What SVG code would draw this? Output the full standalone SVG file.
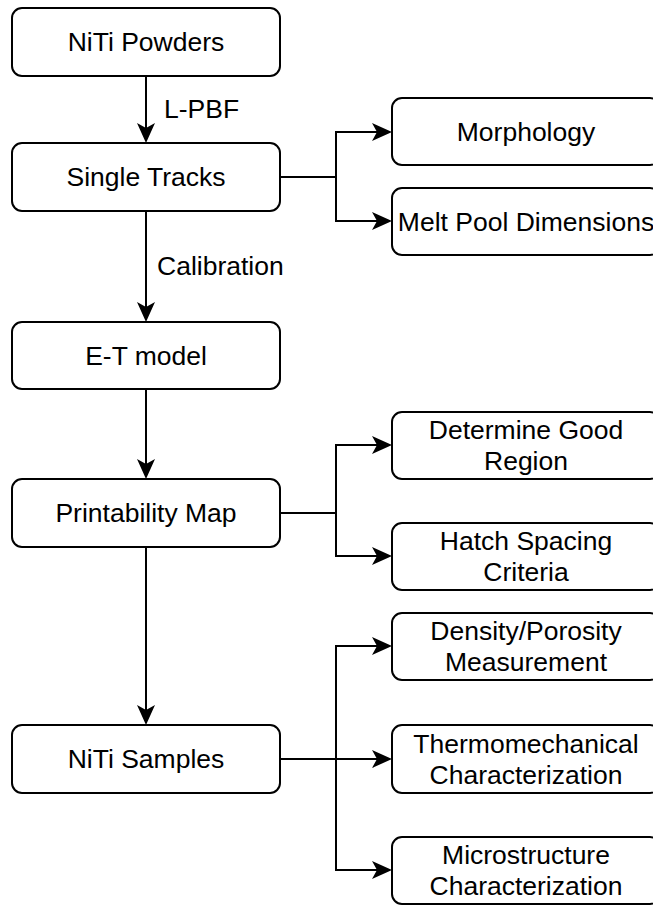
<svg xmlns="http://www.w3.org/2000/svg" width="653" height="905" viewBox="0 0 653 905">
<style>
.box{fill:#fff;stroke:#000;stroke-width:2}
.t{font-family:"Liberation Sans",Arial,sans-serif;font-size:26.5px;fill:#000;text-anchor:middle;dominant-baseline:central}
.lbl{font-family:"Liberation Sans",Arial,sans-serif;font-size:26.5px;fill:#000;dominant-baseline:central}
.c{fill:none;stroke:#000;stroke-width:2;marker-end:url(#ah)}
</style>
<defs>
<marker id="ah" markerUnits="userSpaceOnUse" markerWidth="20" markerHeight="18" refX="5" refY="9" orient="auto" overflow="visible">
<path d="M0,0 L20,9 L0,18 L5,9 Z" fill="#000"/>
</marker>
</defs>
<rect width="653" height="905" fill="#fff"/>
<g id="connectors">
<line class="c" x1="146" y1="76" x2="146" y2="128"/>
<line class="c" x1="146" y1="211" x2="146" y2="307"/>
<line class="c" x1="146" y1="389" x2="146" y2="464"/>
<line class="c" x1="146" y1="547" x2="146" y2="710"/>
<polyline class="c" points="280,177 336,177 336,132 377,132"/>
<polyline class="c" points="280,177 336,177 336,221 377,221"/>
<polyline class="c" points="280,513 336,513 336,445 377,445"/>
<polyline class="c" points="280,513 336,513 336,556 377,556"/>
<polyline class="c" points="280,759 336,759 336,646 377,646"/>
<polyline class="c" points="280,759 377,759"/>
<polyline class="c" points="280,759 336,759 336,870 377,870"/>
<text class="lbl" x="164" y="109">L-PBF</text>
<text class="lbl" x="157" y="266">Calibration</text>
</g>
<g id="niti-powders"><rect class="box" x="12" y="8" width="268" height="68" rx="10"/><text class="t" x="146" y="42">NiTi Powders</text></g>
<g id="single-tracks"><rect class="box" x="12" y="143" width="268" height="68" rx="10"/><text class="t" x="146" y="177">Single Tracks</text></g>
<g id="et-model"><rect class="box" x="12" y="322" width="268" height="67" rx="10"/><text class="t" x="146" y="355.5">E-T model</text></g>
<g id="printability-map"><rect class="box" x="12" y="479" width="268" height="68" rx="10"/><text class="t" x="146" y="513">Printability Map</text></g>
<g id="niti-samples"><rect class="box" x="12" y="725" width="268" height="68" rx="10"/><text class="t" x="146" y="759">NiTi Samples</text></g>
<g id="morphology"><rect class="box" x="392" y="98" width="268" height="67" rx="10"/><text class="t" x="526" y="131.5">Morphology</text></g>
<g id="melt-pool"><rect class="box" x="392" y="188" width="268" height="67" rx="10"/><text class="t" x="526" y="221.5">Melt Pool Dimensions</text></g>
<g id="good-region"><rect class="box" x="392" y="412" width="268" height="67" rx="10"/><text class="t" x="526" y="430">Determine Good</text><text class="t" x="526" y="461">Region</text></g>
<g id="hatch-spacing"><rect class="box" x="392" y="523" width="268" height="67" rx="10"/><text class="t" x="526" y="541">Hatch Spacing</text><text class="t" x="526" y="572">Criteria</text></g>
<g id="density"><rect class="box" x="392" y="613" width="268" height="67" rx="10"/><text class="t" x="526" y="631">Density/Porosity</text><text class="t" x="526" y="662">Measurement</text></g>
<g id="thermo"><rect class="box" x="392" y="725" width="268" height="68" rx="10"/><text class="t" x="526" y="743.5">Thermomechanical</text><text class="t" x="526" y="774.5">Characterization</text></g>
<g id="micro"><rect class="box" x="392" y="837" width="268" height="67" rx="10"/><text class="t" x="526" y="855">Microstructure</text><text class="t" x="526" y="886">Characterization</text></g>
</svg>
